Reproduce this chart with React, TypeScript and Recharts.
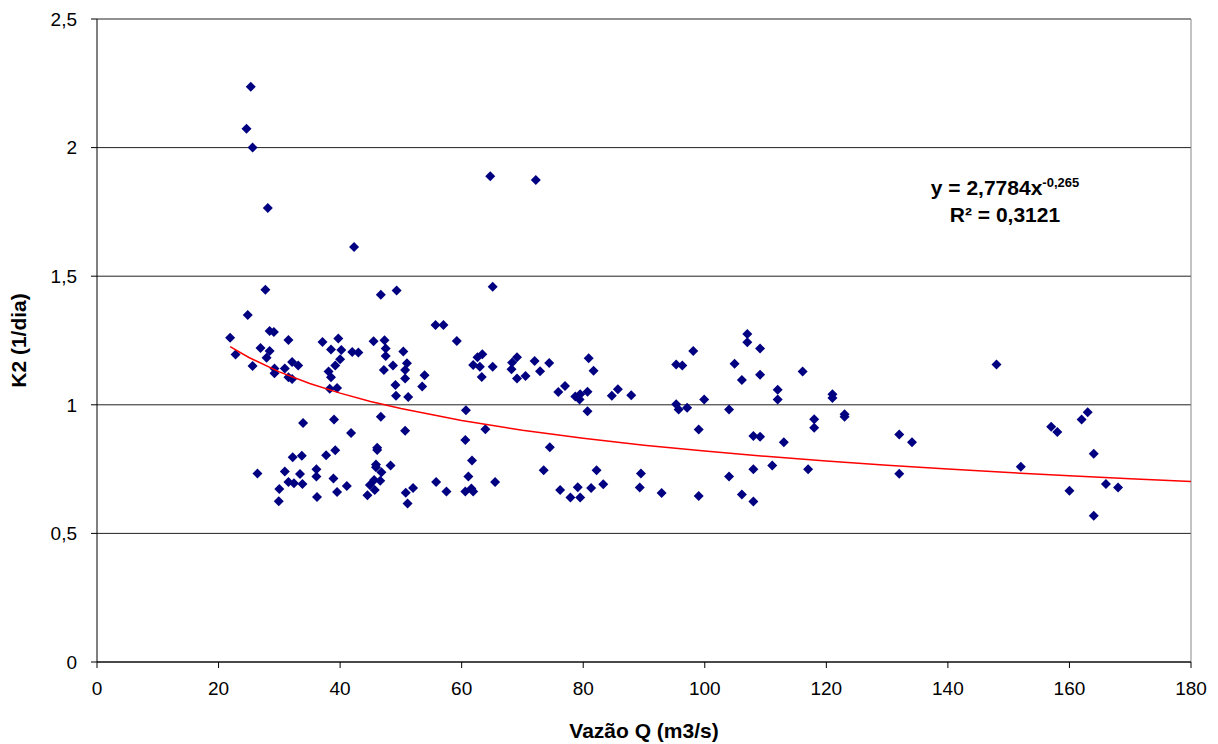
import { CartesianGrid, ReferenceLine, Scatter, ScatterChart, XAxis, YAxis } from "recharts"

// vazão Q (m3/s) e K2 (1/dia)
const vazao = [
  21.9, 22.8, 24.6, 25.3, 25.6, 24.8, 25.6, 26.4, 26.9, 28.1, 27.7, 27.9, 28.4, 28.4, 29.1, 29.2,
  29.2, 29.9, 30.0, 30.9, 30.9, 31.5, 31.5, 31.5, 32.1, 32.2, 32.1, 33.1, 32.4, 33.4, 33.7, 33.9,
  33.8, 36.1, 36.1, 36.2, 37.1, 37.7, 38.1, 38.3, 38.5, 38.5, 38.9, 39.0, 39.2, 39.2, 39.5, 39.5,
  39.7, 40.0, 40.2, 41.1, 41.8, 42.0, 42.3, 43.0, 44.5, 44.9, 45.5, 45.6, 45.7, 45.9, 45.9, 46.1,
  46.1, 46.6, 46.7, 46.7, 46.8, 47.2, 47.3, 47.5, 47.5, 48.3, 48.7, 49.1, 49.2, 49.3, 50.4, 50.7,
  50.7, 50.7, 50.8, 51.0, 51.1, 51.2, 52.0, 53.5, 53.9, 55.7, 55.8, 57.0, 57.5, 59.2, 60.6, 60.6,
  60.7, 61.1, 61.6, 61.7, 61.9, 61.9, 62.6, 63.0, 63.3, 63.4, 63.9, 64.7, 65.1, 65.1, 65.5, 68.2,
  68.3, 69.1, 69.1, 70.5, 72.0, 72.2, 72.9, 73.5, 74.4, 74.5, 75.9, 76.2, 77.0, 77.9, 78.7, 79.1,
  79.4, 79.5, 79.5, 80.7, 80.7, 80.9, 81.3, 81.7, 82.2, 83.3, 84.7, 85.7, 87.9, 89.3, 89.5, 92.9,
  95.3, 95.3, 95.7, 96.3, 97.1, 98.1, 99.0, 99.0, 99.9, 104.0, 104.0, 104.9, 106.1, 106.1, 107.0, 107.0,
  108.0, 108.0, 108.0, 109.1, 109.1, 109.1, 111.1, 112.0, 112.0, 113.0, 116.1, 117.0, 118.0, 118.0, 121.0, 121.0,
  123.0, 123.0, 132.0, 132.0, 134.1, 148.0, 152.0, 157.0, 158.0, 160.0, 162.0, 163.0, 164.0, 164.0, 166.0, 168.0,
]

const k2 = [
  1.261, 1.196, 2.073, 2.237, 2.0, 1.349, 1.151, 0.733, 1.221, 1.765, 1.447, 1.183, 1.209, 1.287, 1.283, 1.141,
  1.123, 0.625, 0.673, 1.141, 0.741, 1.252, 1.107, 0.7, 1.166, 0.796, 1.1, 1.153, 0.695, 0.731, 0.802, 0.929,
  0.692, 0.749, 0.721, 0.642, 1.244, 0.804, 1.129, 1.062, 1.215, 1.107, 0.713, 0.943, 1.153, 0.823, 1.065, 0.661,
  1.258, 1.177, 1.213, 0.684, 0.89, 1.205, 1.614, 1.203, 0.648, 0.688, 1.247, 0.708, 0.669, 0.768, 0.757, 0.833,
  0.824, 0.705, 1.428, 0.954, 0.738, 1.135, 1.251, 1.219, 1.19, 0.764, 1.153, 1.077, 1.035, 1.444, 1.207, 1.135,
  1.102, 0.899, 0.658, 1.162, 0.616, 1.03, 0.677, 1.071, 1.115, 1.31, 0.7, 1.31, 0.663, 1.248, 0.863, 0.663,
  0.979, 0.721, 0.675, 0.783, 1.155, 0.663, 1.185, 1.148, 1.108, 1.197, 0.905, 1.889, 1.459, 1.148, 0.7, 1.138,
  1.164, 1.185, 1.102, 1.112, 1.17, 1.874, 1.13, 0.746, 1.163, 0.835, 1.05, 0.669, 1.073, 0.64, 1.032, 0.679,
  1.021, 1.041, 0.64, 1.051, 0.975, 1.181, 0.677, 1.132, 0.746, 0.691, 1.035, 1.06, 1.037, 0.678, 0.733, 0.657,
  1.157, 1.002, 0.982, 1.153, 0.989, 1.209, 0.904, 0.645, 1.021, 0.982, 0.721, 1.16, 1.096, 0.651, 1.275, 1.243,
  0.879, 0.749, 0.624, 1.219, 1.117, 0.876, 0.764, 1.059, 1.021, 0.854, 1.129, 0.749, 0.944, 0.911, 1.041, 1.026,
  0.963, 0.954, 0.885, 0.732, 0.854, 1.157, 0.759, 0.915, 0.894, 0.666, 0.943, 0.971, 0.81, 0.569, 0.692, 0.678,
]

// linha de tendência potencial: y = 2,7784x^-0,265
const coefA = 2.7784
const coefB = -0.265
const trendQ = [21.9, 25, 30, 35, 40, 45, 50, 60, 70, 80, 90, 100, 110, 120, 130, 140, 150, 160, 170, 180]

const xTicks = [0, 20, 40, 60, 80, 100, 120, 140, 160, 180]
const yTicks = [0, 0.5, 1, 1.5, 2, 2.5]

const pontos = vazao.map((q, i) => ({ q, k: k2[i] }))
const tendencia = trendQ.map((q) => ({ q, k: coefA * Math.pow(q, coefB) }))

const font = "'Liberation Sans', Arial, sans-serif"

function Losango(props: any) {
  const { cx, cy } = props
  if (cx == null || cy == null) return <g />
  const r = 5
  return <path d={`M${cx},${cy - r}L${cx + r},${cy}L${cx},${cy + r}L${cx - r},${cy}Z`} fill="#000080" />
}

export default function App() {
  return (
    <div style={{ position: "absolute", left: 0, top: 0, width: 1218, height: 744, background: "#fff", fontFamily: font }}>
      <ScatterChart width={1218} height={744} margin={{ top: 19, right: 27, bottom: 6, left: 5 }}>
        <CartesianGrid vertical={false} stroke="#222" horizontalValues={yTicks} />
        <XAxis
          type="number"
          dataKey="q"
          domain={[0, 180]}
          ticks={xTicks}
          interval={0}
          height={76}
          stroke="#000"
          tickSize={6}
          tickMargin={14}
          tick={{ fill: "#000", fontSize: 19, fontFamily: font }}
          label={{ value: "Vazão Q (m3/s)", position: "insideBottom", offset: 0, fill: "#000", fontSize: 21, fontWeight: "bold", fontFamily: font }}
        />
        <YAxis
          type="number"
          dataKey="k"
          domain={[0, 2.5]}
          ticks={yTicks}
          interval={0}
          width={92}
          stroke="#000"
          tickSize={6}
          tickMargin={14}
          tick={{ fill: "#000", fontSize: 19, fontFamily: font }}
          tickFormatter={(v) => String(v).replace(".", ",")}
          label={{ value: "K2 (1/dia)", angle: -90, position: "insideLeft", offset: 14, fill: "#000", fontSize: 21, fontWeight: "bold", fontFamily: font, style: { textAnchor: "middle" } }}
        />
        <ReferenceLine x={180} stroke="#888" />
        <Scatter data={pontos} shape={<Losango />} isAnimationActive={false} />
        <Scatter
          data={tendencia}
          line={{ stroke: "#ff0000", strokeWidth: 1.5 }}
          lineType="joint"
          shape={() => <g />}
          isAnimationActive={false}
        />
      </ScatterChart>
      <div
        style={{
          position: "absolute",
          left: 905,
          top: 174,
          width: 200,
          textAlign: "center",
          fontSize: 21,
          fontWeight: "bold",
          lineHeight: "27px",
          color: "#000",
        }}
      >
        <div>
          y = 2,7784x<sup style={{ fontSize: 13, verticalAlign: "8px", lineHeight: 0 }}>-0,265</sup>
        </div>
        <div>R² = 0,3121</div>
      </div>
    </div>
  )
}
